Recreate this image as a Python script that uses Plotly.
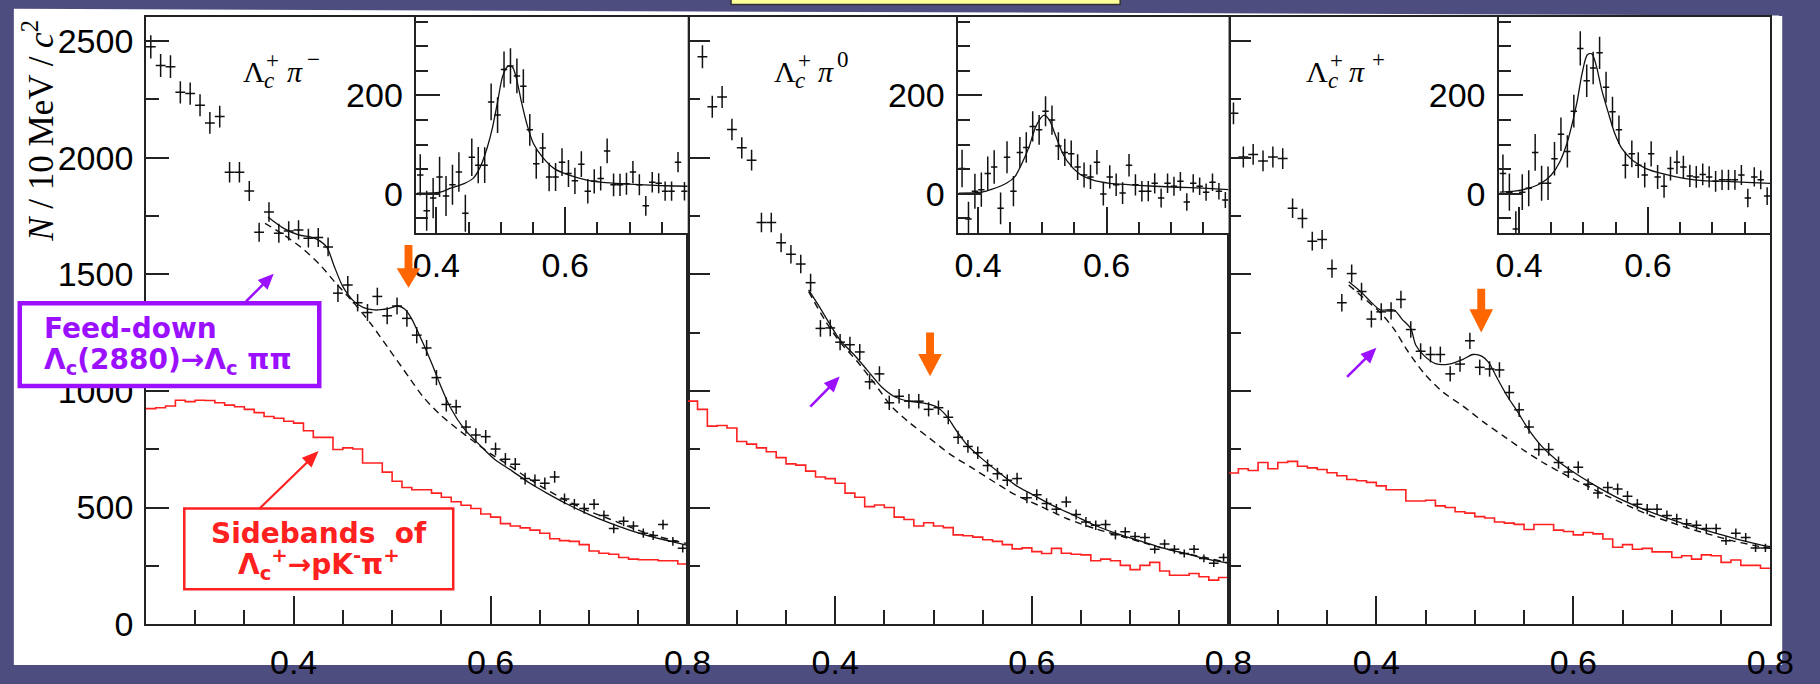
import numpy as np
import plotly.graph_objects as go

W, H = 1820, 684

# ---------------- data ----------------
MASS = [0.255, 0.265, 0.275, 0.285, 0.295, 0.305, 0.315, 0.325, 0.335, 0.345,
        0.355, 0.365, 0.375, 0.385, 0.395, 0.405, 0.415, 0.425, 0.435, 0.445,
        0.455, 0.465, 0.475, 0.485, 0.495, 0.505, 0.515, 0.525, 0.535, 0.545,
        0.555, 0.565, 0.575, 0.585, 0.595, 0.605, 0.615, 0.625, 0.635, 0.645,
        0.655, 0.665, 0.675, 0.685, 0.695, 0.705, 0.715, 0.725, 0.735, 0.745,
        0.755, 0.765, 0.775, 0.785, 0.795]

P1_DATA = [2475, 2395, 2390, 2280, 2275, 2225, 2149, 2176, 1937, 1937,
           1857, 1680, 1767, 1676, 1686, 1690, 1655, 1658, 1617, 1419,
           1454, 1378, 1336, 1405, 1322, 1364, 1311, 1239, 1184, 1057,
           942, 932, 845, 811, 804, 751, 707, 686, 624, 617,
           604, 631, 537, 514, 496, 514, 466, 410, 441, 421,
           390, 380, 427, 355, 325]
P2_DATA = [None, 2433, 2218, 2260, 2121, 2042, 1989, 1722, 1722, 1635,
           1586, 1544, 1464, 1268, 1270, 1209, 1198, 1167, 1039, 1073,
           949, 977, 956, 956, 921, 928, 887, 801, 762, 735,
           680, 645, 617, 624, 542, 555, 517, 493, 524, 470,
           438, 424, 427, 383, 396, 376, 372, 321, 344, 321,
           303, 321, 282, 261, 286]
P3_DATA = [2190, 2003, 2014, 1986, 2003, 1996, 1783, 1739, 1642, 1649,
           1524, 1378, 1503, 1426, 1308, 1339, 1343, 1392, 1263, 1170,
           1156, 1156, 1073, 1115, 1215, 1101, 1094, 1090, 993, 919,
           845, 749, 749, 693, 652, 673, 600, 562, 586, 579,
           548, 514, 493, 493, 466, 452, 431, 424, 410, 410,
           358, 390, 372, 327, 327]

P1_SIDEBAND = [924, 928, 935, 960, 954, 960, 959, 949, 939, 932,
               921, 907, 890, 883, 870, 862, 829, 801, 801, 749,
               756, 751, 691, 691, 652, 613, 586, 576, 576, 562,
               544, 525, 510, 496, 472, 459, 431, 421, 413, 403,
               390, 366, 358, 355, 341, 314, 304, 300, 286, 279,
               276, 276, 272, 272, 258]
P2_SIDEBAND = [956, 921, 849, 852, 841, 783, 772, 756, 739, 714,
               687, 682, 656, 631, 624, 604, 562, 544, 504, 511,
               500, 459, 449, 421, 435, 421, 414, 383, 379, 373,
               362, 355, 341, 323, 327, 311, 303, 325, 304, 300,
               297, 272, 279, 272, 252, 234, 252, 265, 228, 210,
               210, 217, 203, 189, 200]
P3_SIDEBAND = [648, 666, 659, 693, 666, 693, 698, 677, 670, 663,
               649, 636, 620, 615, 608, 593, 576, 576, 528, 528,
               531, 507, 500, 482, 476, 461, 455, 438, 433, 428,
               406, 427, 427, 403, 397, 383, 393, 387, 365, 330,
               341, 321, 325, 310, 310, 286, 293, 279, 297, 293,
               265, 275, 252, 252, 240]

# fit curves (total = solid, background = dashed), read at nodes
P1_FIT_X = [0.374, 0.390, 0.405, 0.419, 0.427, 0.434, 0.441, 0.450, 0.461, 0.471,
            0.482, 0.496, 0.506, 0.513, 0.520, 0.527, 0.534, 0.541, 0.548, 0.559,
            0.573, 0.587, 0.604, 0.622, 0.640, 0.657, 0.678, 0.699, 0.720, 0.741,
            0.762, 0.783, 0.800]
P1_FIT_Y = [1746, 1697, 1669, 1658, 1642, 1614, 1537, 1447, 1385, 1357,
            1347, 1353, 1364, 1350, 1308, 1245, 1180, 1110, 1035, 930,
            838, 776, 707, 656, 604, 562, 514, 472, 435, 403,
            376, 355, 338]
P1_BKG_X = [0.371, 0.390, 0.408, 0.426, 0.443, 0.461, 0.478, 0.496, 0.517, 0.531,
            0.548, 0.566, 0.583, 0.601, 0.619, 0.636, 0.657, 0.678, 0.699, 0.720,
            0.741, 0.762, 0.783, 0.800]
P1_BKG_Y = [1718, 1669, 1614, 1544, 1461, 1378, 1290, 1184, 1059, 977,
            901, 838, 783, 728, 680, 631, 576, 528, 486, 452,
            417, 385, 362, 345]

P2_FIT_X = [0.373, 0.384, 0.394, 0.405, 0.419, 0.433, 0.447, 0.461, 0.475, 0.489,
            0.503, 0.513, 0.524, 0.534, 0.548, 0.566, 0.583, 0.601, 0.622, 0.643,
            0.664, 0.685, 0.706, 0.727, 0.748, 0.769, 0.790, 0.800]
P2_FIT_Y = [1433, 1360, 1290, 1218, 1156, 1087, 1018, 974, 956, 949,
            932, 894, 825, 769, 714, 652, 597, 555, 507, 466,
            424, 390, 362, 334, 311, 289, 269, 261]
P2_BKG_X = [0.373, 0.390, 0.405, 0.422, 0.440, 0.457, 0.475, 0.496, 0.517, 0.538,
            0.559, 0.583, 0.608, 0.636, 0.664, 0.692, 0.720, 0.748, 0.776, 0.800]
P2_BKG_Y = [1426, 1300, 1209, 1128, 1032, 935, 866, 797, 728, 673,
            617, 555, 507, 452, 410, 376, 341, 311, 286, 263]

P3_FIT_X = [0.372, 0.384, 0.397, 0.404, 0.418, 0.426, 0.435, 0.440, 0.449, 0.460,
            0.474, 0.488, 0.498, 0.507, 0.514, 0.523, 0.533, 0.544, 0.554, 0.568,
            0.582, 0.600, 0.621, 0.642, 0.663, 0.684, 0.705, 0.726, 0.747, 0.768,
            0.789, 0.800]
P3_FIT_Y = [1468, 1426, 1371, 1347, 1347, 1308, 1267, 1197, 1149, 1117,
            1115, 1135, 1156, 1149, 1122, 1052, 977, 907, 838, 762,
            707, 652, 597, 548, 507, 472, 441, 413, 387, 362,
            341, 332]
P3_BKG_X = [0.372, 0.389, 0.404, 0.418, 0.432, 0.449, 0.467, 0.488, 0.509, 0.530,
            0.551, 0.572, 0.593, 0.614, 0.635, 0.656, 0.677, 0.698, 0.719, 0.740,
            0.761, 0.782, 0.800]
P3_BKG_Y = [1454, 1392, 1336, 1265, 1170, 1073, 997, 935, 866, 804,
            742, 686, 638, 593, 548, 507, 468, 438, 408, 383,
            358, 339, 325]

# insets: sideband/background-subtracted spectra
INSET_MASS = MASS[12:54]   # 0.375 ... 0.785
I1_DATA = [38, -35, -9, 34, -5, 18, 44, -40, 74, 58, 58, 187, 160, 253, 260, 240,
           219, 130, 61, 93, 34, 34, 64, 41, 26, 60, 5, 25, 31, 87, 18, 18,
           20, 44, 18, -25, 23, 21, 5, 5, 64, 5]
I2_DATA = [51, -52, 5, 8, 41, 54, -30, 74, 5, 84, 94, 137, 130, 168, 150, 97,
           84, 81, 54, 38, 34, 64, -1, 34, 18, 1, 58, 18, 5, 5, 21, -9,
           21, 15, 25, -17, 21, 15, 3, 23, 5, -13]
I3_DATA = [41, 3, -72, 3, 11, 84, 21, 21, 71, 121, 86, 168, 296, 230, 256, 287,
           217, 167, 130, 58, 81, 58, 38, 81, 34, 15, 51, 64, 54, 36, 34, 39,
           34, 25, 28, 28, 28, 38, -9, 34, 28, -5]

I1_FIT_X = [0.370, 0.406, 0.422, 0.444, 0.457, 0.468, 0.479, 0.487, 0.495, 0.503,
            0.511, 0.518, 0.524, 0.532, 0.540, 0.551, 0.565, 0.583, 0.605, 0.632,
            0.658, 0.691, 0.723, 0.755, 0.790]
I1_FIT_Y = [1, 3, 11, 21, 31, 54, 94, 134, 187, 240,
            260, 258, 236, 187, 144, 101, 74, 51, 38, 28,
            23, 20, 18, 16, 15]
I2_FIT_X = [0.370, 0.406, 0.422, 0.444, 0.457, 0.468, 0.479, 0.489, 0.498, 0.503,
            0.511, 0.519, 0.530, 0.540, 0.557, 0.578, 0.605, 0.637, 0.675, 0.712,
            0.750, 0.790]
I2_FIT_Y = [1, 3, 9, 21, 34, 61, 94, 134, 155, 160,
            150, 124, 87, 64, 41, 28, 21, 18, 15, 13,
            11, 8]
I3_FIT_X = [0.370, 0.393, 0.415, 0.434, 0.450, 0.463, 0.474, 0.482, 0.490, 0.498,
            0.506, 0.513, 0.520, 0.528, 0.538, 0.549, 0.560, 0.576, 0.597, 0.624,
            0.656, 0.689, 0.721, 0.753, 0.790]
I3_FIT_Y = [3, 5, 11, 21, 38, 64, 101, 140, 187, 246,
            283, 285, 260, 213, 167, 121, 91, 68, 51, 40,
            31, 26, 25, 23, 21]

BIN_HALF = 0.005

# ---------------- helpers ----------------
def PX(x):
    return x / W


def PY(y):
    return 1 - y / H


def dom_x(a, b):
    return [a / W, b / W]


def dom_y(top, bottom):
    return [1 - bottom / H, 1 - top / H]


BLACK = "#111111"
AX = "#222222"
RED = "#ff2020"
PURPLE = "#9a10ff"
ORANGE = "#ff6600"
TICKFONT = dict(family="Liberation Sans, Arial, sans-serif", size=34, color="black")

fig = go.Figure()


def add_panel(main_y, side, fx, fy, bx, by, ins_y, ifx, ify, k_main, k_ins):
    xa, ya = ("x" if k_main == 1 else f"x{k_main}"), ("y" if k_main == 1 else f"y{k_main}")
    xi, yi = f"x{k_ins}", f"y{k_ins}"
    yv = np.array([np.nan if v is None else v for v in main_y], dtype=float)
    err = np.sqrt(yv)
    # sideband histogram (steps)
    edges = [m - BIN_HALF for m in MASS] + [MASS[-1] + BIN_HALF]
    fig.add_trace(go.Scatter(x=edges, y=list(side) + [side[-1]], mode="lines",
                             line=dict(color=RED, width=1.6, shape="hv"),
                             xaxis=xa, yaxis=ya, hoverinfo="skip", showlegend=False))
    fig.add_trace(go.Scatter(x=bx, y=by, mode="lines",
                             line=dict(color=BLACK, width=1.4, dash="7px,5px", shape="spline", smoothing=0.8),
                             xaxis=xa, yaxis=ya, hoverinfo="skip", showlegend=False))
    fig.add_trace(go.Scatter(x=fx, y=fy, mode="lines",
                             line=dict(color=BLACK, width=1.3, shape="spline", smoothing=0.8),
                             xaxis=xa, yaxis=ya, hoverinfo="skip", showlegend=False))
    fig.add_trace(go.Scatter(x=MASS, y=yv, mode="markers",
                             marker=dict(size=2, color=BLACK),
                             error_y=dict(type="data", array=err, thickness=1.5, width=0, color=BLACK),
                             error_x=dict(type="constant", value=BIN_HALF, thickness=1.5, width=0, color=BLACK),
                             xaxis=xa, yaxis=ya, hoverinfo="skip", showlegend=False))
    # inset
    ierr = err[12:54]
    fig.add_trace(go.Scatter(x=ifx, y=ify, mode="lines",
                             line=dict(color=BLACK, width=1.3, shape="spline", smoothing=0.8),
                             xaxis=xi, yaxis=yi, hoverinfo="skip", showlegend=False))
    fig.add_trace(go.Scatter(x=INSET_MASS, y=ins_y, mode="markers",
                             marker=dict(size=2, color=BLACK),
                             error_y=dict(type="data", array=ierr, thickness=1.5, width=0, color=BLACK),
                             error_x=dict(type="constant", value=BIN_HALF, thickness=1.5, width=0, color=BLACK),
                             xaxis=xi, yaxis=yi, hoverinfo="skip", showlegend=False))


add_panel(P1_DATA, P1_SIDEBAND, P1_FIT_X, P1_FIT_Y, P1_BKG_X, P1_BKG_Y, I1_DATA, I1_FIT_X, I1_FIT_Y, 1, 4)
add_panel(P2_DATA, P2_SIDEBAND, P2_FIT_X, P2_FIT_Y, P2_BKG_X, P2_BKG_Y, I2_DATA, I2_FIT_X, I2_FIT_Y, 2, 5)
add_panel(P3_DATA, P3_SIDEBAND, P3_FIT_X, P3_FIT_Y, P3_BKG_X, P3_BKG_Y, I3_DATA, I3_FIT_X, I3_FIT_Y, 3, 6)

# ---------------- axes ----------------
PANEL_X = [(145, 695), (695, 1244), (1244, 1794)]
INSET_X = [(419.6, 695), (969.6, 1244), (1518.6, 1794)]
MAIN_TOP, MAIN_BOT = 17, 642
INS_TOP, INS_BOT = 17, 240

common = dict(showline=True, linecolor=AX, linewidth=1.5, mirror=True, showgrid=False,
              zeroline=False, ticks="inside", tickwidth=1.5, tickcolor=AX,
              tickfont=TICKFONT, fixedrange=True)

layout_axes = {}
for i in range(3):
    k = i + 1
    kx = "xaxis" if k == 1 else f"xaxis{k}"
    ky = "yaxis" if k == 1 else f"yaxis{k}"
    anc_x = "y" if k == 1 else f"y{k}"
    anc_y = "x" if k == 1 else f"x{k}"
    layout_axes[kx] = dict(common, domain=dom_x(*PANEL_X[i]), anchor=anc_x,
                           range=[0.25, 0.80005], tickmode="linear", tick0=0.4, dtick=0.2,
                           tickformat=".1f", ticklen=28, ticklabelstandoff=7,
                           minor=dict(dtick=0.05, ticks="inside", ticklen=14, tickwidth=1.5, tickcolor=AX))
    layout_axes[ky] = dict(common, domain=dom_y(MAIN_TOP, MAIN_BOT), anchor=anc_y,
                           range=[0, 2605], tickmode="linear", tick0=0, dtick=500,
                           ticklen=23, showticklabels=(k == 1), ticklabelstandoff=4,
                           minor=dict(dtick=250, ticks="inside", ticklen=13, tickwidth=1.5, tickcolor=AX))
    ki = k + 3
    layout_axes[f"xaxis{ki}"] = dict(common, domain=dom_x(*INSET_X[i]), anchor=f"y{ki}",
                                     range=[0.369, 0.790], tickmode="linear", tick0=0.4, dtick=0.2,
                                     tickformat=".1f", ticklen=27, ticklabelstandoff=1,
                                     minor=dict(dtick=0.05, ticks="inside", ticklen=12, tickwidth=1.5, tickcolor=AX))
    layout_axes[f"yaxis{ki}"] = dict(common, domain=dom_y(INS_TOP, INS_BOT), anchor=f"x{ki}",
                                     range=[-81, 361], tickmode="linear", tick0=0, dtick=200,
                                     ticklen=24, ticklabelstandoff=5,
                                     minor=dict(dtick=50, ticks="inside", ticklen=12, tickwidth=1.5, tickcolor=AX))

# ---------------- shapes ----------------
def poly(points, color, layer="above"):
    path = "M " + " L ".join(f"{PX(x):.6f},{PY(y):.6f}" for x, y in points) + " Z"
    return dict(type="path", xref="paper", yref="paper", path=path,
                fillcolor=color, line=dict(width=0), layer=layer)


def block_arrow(cx, top, head_start, tip, sw, hw, color):
    return poly([(cx - sw / 2, top), (cx + sw / 2, top), (cx + sw / 2, head_start),
                 (cx + hw / 2, head_start), (cx, tip), (cx - hw / 2, head_start),
                 (cx - sw / 2, head_start)], color)


def thin_arrow(x0, y0, x1, y1, sw, hl, hw, color):
    d = np.array([x1 - x0, y1 - y0], dtype=float)
    u = d / np.hypot(*d)
    n = np.array([-u[1], u[0]])
    t = np.array([x0, y0]); p = np.array([x1, y1]); b = p - u * hl
    pts = [t + n * sw / 2, b + n * sw / 2, b + n * hw / 2, p, b - n * hw / 2, b - n * sw / 2, t - n * sw / 2]
    return poly([tuple(q) for q in pts], color)


shapes = []
# white slide area
shapes.append(dict(type="path", xref="paper", yref="paper", layer="below",
                   path=f"M {PX(11)},{PY(9)} L {PX(1806)},{PY(16)} L {PX(1806)},{PY(684)} L {PX(11)},{PY(684)} Z",
                   fillcolor="white", line=dict(width=0)))
# yellow title box (cut at top)
shapes.append(dict(type="rect", xref="paper", yref="paper", layer="below",
                   x0=PX(739), x1=PX(1134), y0=PY(4.5), y1=PY(-5),
                   fillcolor="#ffff99", line=dict(color="#333333", width=1.5)))
# orange arrows
shapes.append(block_arrow(411.6, 252, 276, 296, 8, 24, ORANGE))
shapes.append(block_arrow(941.0, 342, 364, 387, 8, 24, ORANGE))
shapes.append(block_arrow(1500.5, 297, 318, 342, 8, 24, ORANGE))
# purple box and arrows
shapes.append(dict(type="rect", xref="paper", yref="paper", layer="above",
                   x0=PX(17), x1=PX(321), y0=PY(397), y1=PY(312),
                   fillcolor="white", line=dict(color=PURPLE, width=4.5)))
shapes.append(thin_arrow(246.7, 310, 274.8, 281.7, 2.6, 16, 14, PURPLE))
shapes.append(thin_arrow(819.5, 418.3, 849.3, 387.3, 2.6, 16, 14, PURPLE))
shapes.append(thin_arrow(1364.3, 387.7, 1394.1, 357.7, 2.6, 16, 14, PURPLE))
# red box and arrow
shapes.append(dict(type="rect", xref="paper", yref="paper", layer="above",
                   x0=PX(184), x1=PX(457), y0=PY(606), y1=PY(523),
                   fillcolor="white", line=dict(color=RED, width=2.5)))
shapes.append(thin_arrow(260.7, 522.7, 320.4, 464, 2.2, 17, 14, RED))

# ---------------- annotations ----------------
ann = []


def txt(x, y, s, size, family, color="black", xanchor="center", yanchor="middle", angle=0):
    ann.append(dict(x=PX(x), y=PY(y), xref="paper", yref="paper", text=s, showarrow=False,
                    font=dict(size=size, family=family, color=color), xanchor=xanchor,
                    yanchor=yanchor, textangle=angle))


SERIF = "Liberation Serif, Times New Roman, serif"
BOLD = "DejaVu Sans, Verdana, sans-serif"

# y-axis title
txt(36, 134, "<i>N</i> / 10 MeV / <i>c</i><sup>2</sup>", 35, SERIF, angle=-90)

# panel labels  (Lambda_c^+ pi^x)
def panel_label(lx, px_, cx_c, cx_sup1, cx_sup2, sup2):
    txt(lx, 74, "Λ", 30, SERIF, xanchor="left")
    txt(cx_sup1, 62, "+", 23, SERIF)
    txt(cx_c, 83, "<i>c</i>", 23, SERIF)
    txt(px_, 74, "<i>π</i>", 30, SERIF, xanchor="left")
    txt(cx_sup2, 61, sup2, 23, SERIF)


panel_label(241.5, 286, 270, 274, 315, "−")
panel_label(781, 825, 809.5, 814, 853, "0")
panel_label(1320.5, 1364, 1350, 1353.6, 1396, "+")

# feed-down box text
txt(40, 338, "<b>Feed-down</b>", 28, BOLD, color=PURPLE, xanchor="left")
txt(40, 372, "<b>Λ<sub>c</sub>(2880)→Λ<sub>c</sub> ππ</b>", 28, BOLD, color=PURPLE, xanchor="left")
# sideband box text
txt(321, 549, "<b>Sidebands\u00a0\u00a0of</b>", 28, BOLD, color=RED)
txt(321, 581, "<b>Λ<sub>c</sub><sup>+</sup>→pK<sup>-</sup>π<sup>+</sup></b>", 28, BOLD, color=RED)

fig.update_layout(width=W, height=H, margin=dict(l=0, r=0, t=0, b=0),
                  paper_bgcolor="#4d4d7f", plot_bgcolor="white",
                  showlegend=False, shapes=shapes, annotations=ann, **layout_axes)

fig.write_html("out.html")
